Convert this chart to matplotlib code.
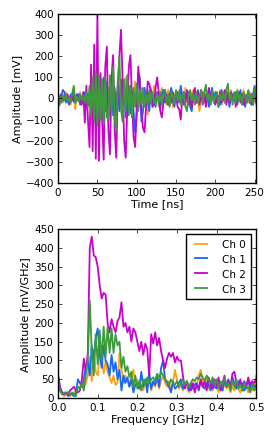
import numpy as np
import matplotlib
matplotlib.use("Agg")
import matplotlib.pyplot as plt

plt.style.use("classic")
plt.rcParams["font.family"] = "DejaVu Sans"

# Time traces, sampled every 2 ns [mV]
ch0_t = [30, -10, 20, -20, 10, 30, -20, 10, -30, 20, -10, -50, 20, -10, 30, -20,
         10, -30, 20, -10, 30, -40, 50, -30, 60, -50, 40, -70, 60, -40, 70, -60,
         50, -80, 40, 70, -60, 30, -50, 60, -40, 50, -30, 100, -20, 60, -50, 40,
         -30, 80, -60, 30, -40, 50, -20, 40, -30, -75, 20, 50, -10, 60, -20, 30,
         -40, 20, 50, -10, 30, -30, 40, -20, 20, -40, 10, 30, -20, 40, -10, 20,
         -30, 50, -20, 10, -30, 20, 40, -10, 30, -20, -60, 10, 30, -20, 20, -10,
         40, -30, 10, 20, -20, 30, -10, 40, -30, 20, -20, 30, 10, -30, 40, -10,
         20, -20, 30, -10, 20, -30, 40, -10, 20, -20, 30, -10, -30, 20, -30]
ch1_t = [20, -30, 10, 40, 30, -20, 10, -30, 20, -10, 30, -20, 10, 20, -30, 10,
         -20, 30, -40, 20, -30, 40, -60, 50, -80, 90, -100, 70, -90, 100, -60, 80,
         -110, 60, 90, -80, 50, -100, 70, -60, 90, -40, 80, -90, 40, 60, -70, 30,
         -60, -160, -80, 120, 100, -110, -60, 50, -40, 30, -60, 40, -20, 10, -40, 30,
         -10, -50, 20, 40, -20, 10, -30, 20, 50, -10, -40, 20, 30, -20, 60, 10,
         -30, 20, -10, 30, -40, -60, 10, 20, -20, 40, -10, 20, -30, 30, -20, 10,
         -40, 20, 50, -10, 30, -20, 10, -30, 40, -10, 20, -20, 30, -40, 10, 20,
         -10, 30, -30, 10, 40, -20, 20, -40, 10, 30, -20, -30, 20, 60, -20]
ch2_t = [10, -15, 20, -10, 15, -5, 20, -20, 10, 15, -15, 5, 20, -10, 15, -30,
         30, -115, 60, -100, -230, 160, -250, 255, -285, 400, -295, 120, -100, -290, 150, 245,
         -150, -265, 100, 205, -150, -280, 50, 200, 325, 100, -200, -280, -50, 150, 205, 0,
         -180, -230, -50, 150, 60, -60, -140, -160, -30, 80, 70, 30, -40, -30, 50, 100,
         30, -60, -90, -20, 40, 10, -30, 20, -20, 30, -10, 20, -40, -50, -100, 10,
         30, -20, 40, -30, 10, -40, 20, 50, -20, 30, -30, 40, -10, 20, -40, 10,
         50, -20, 30, -10, -30, 20, -40, 30, -20, 10, 40, -30, 20, -20, 30, -10,
         20, -40, 10, 30, -20, 20, -30, 10, -20, 30, -10, 20, -30, 40, -10]
ch3_t = [-50, 10, -20, 15, -10, 20, -15, 5, -20, 25, 60, -20, 10, -15, 20, -10,
         15, -20, 30, -40, 60, -80, 100, -110, 125, -130, 110, -100, 90, -120, 100, -90,
         -100, 110, -60, 150, -100, -150, 80, 195, -50, -110, 90, -60, 110, -80, 60, -90,
         50, -40, 70, -60, 40, -30, 50, -40, 20, -30, 40, -20, 30, -10, -30, 20,
         -20, 30, -30, 10, 40, -20, 20, -40, 30, 10, -20, 40, -10, 20, -30, 10,
         30, -40, -60, 20, 40, -10, 20, -30, 30, -20, 10, 40, -20, 30, 65, -10,
         20, -30, 40, -20, 10, 30, -40, 20, -10, 30, -20, 40, 70, -10, 20, -30,
         30, -20, 40, -10, 20, -30, 30, 10, -20, 40, -10, 20, -30, 50, 10]

# Amplitude spectra, every 0.005 GHz [mV/GHz]
ch0_f = [40, 20, 10, 5, 10, 15, 5, 10, 15, 20,
         30, 25, 45, 30, 40, 60, 110, 45, 130, 70,
         60, 120, 110, 65, 100, 70, 55, 40, 60, 35,
         40, 120, 80, 40, 60, 45, 30, 60, 75, 40,
         50, 25, 35, 20, 45, 30, 55, 20, 40, 30,
         50, 25, 45, 60, 40, 30, 45, 20, 40, 75,
         50, 25, 35, 20, 40, 30, 15, 35, 25, 40,
         30, 60, 75, 45, 30, 50, 25, 40, 20, 35,
         45, 15, 30, 20, 40, 25, 35, 15, 30, 20,
         40, 25, 15, 30, 20, 35, 15, 30, 20, 25,
         60]
ch1_f = [60, 30, 15, 10, 15, 5, 10, 10, 5, 15,
         50, 40, 30, 50, 85, 100, 60, 140, 100, 160,
         185, 120, 80, 140, 100, 90, 60, 115, 70, 95,
         50, 75, 20, 60, 40, 55, 30, 50, 15, 35,
         40, 25, 70, 30, 50, 15, 70, 25, 45, 35,
         60, 30, 80, 100, 50, 40, 30, 15, 45, 25,
         30, 40, 50, 25, 35, 45, 20, 40, 25, 35,
         40, 20, 45, 30, 25, 40, 35, 20, 45, 30,
         25, 40, 30, 20, 45, 35, 50, 30, 55, 40,
         25, 45, 30, 40, 20, 35, 45, 25, 40, 30,
         35]
ch2_f = [60, 25, 15, 10, 15, 10, 20, 25, 30, 20,
         15, 20, 50, 105, 70, 120, 400, 430, 380, 375,
         350, 300, 265, 280, 275, 200, 175, 210, 190, 175,
         205, 215, 255, 190, 200, 175, 190, 150, 185, 175,
         150, 125, 150, 115, 145, 130, 60, 170, 145, 175,
         140, 160, 125, 100, 80, 105, 120, 110, 120, 95,
         110, 100, 100, 60, 25, 45, 30, 20, 40, 15,
         35, 25, 50, 30, 45, 20, 55, 35, 25, 50,
         30, 55, 20, 40, 60, 30, 45, 25, 65, 70,
         40, 30, 50, 20, 45, 30, 55, 35, 45, 40,
         50]
ch3_f = [40, 20, 10, 15, 10, 15, 10, 15, 10, 5,
         30, 25, 40, 20, 60, 100, 260, 120, 60, 170,
         90, 180, 100, 190, 110, 190, 120, 185, 120, 170,
         140, 150, 80, 110, 70, 85, 55, 70, 30, 60,
         25, 45, 20, 50, 35, 55, 40, 50, 55, 45,
         65, 55, 70, 60, 50, 45, 35, 50, 40, 35,
         45, 30, 40, 50, 35, 45, 30, 40, 50, 45,
         55, 50, 65, 55, 45, 60, 50, 40, 55, 35,
         50, 25, 45, 35, 55, 30, 40, 20, 45, 30,
         50, 25, 35, 20, 40, 25, 30, 15, 35, 20,
         30]

labels = ["Ch 0", "Ch 1", "Ch 2", "Ch 3"]
colors = ["#ffa010", "#1466ff", "#cc00cc", "#3c9c3c"]
traces = [ch0_t, ch1_t, ch2_t, ch3_t]
spectra = [ch0_f, ch1_f, ch2_f, ch3_f]

fig = plt.figure(figsize=(2.74, 4.39), dpi=100, facecolor="white")
ax1 = fig.add_axes([0.212, 0.581, 0.723, 0.385])
ax2 = fig.add_axes([0.212, 0.091, 0.723, 0.385])

for y, c, lab in zip(traces, colors, labels):
    t = np.arange(len(y)) * 2.0
    ax1.plot(t, y, color=c, lw=1.3, label=lab)
ax1.set_xlim(0, 252)
ax1.set_ylim(-400, 400)
ax1.set_xticks([0, 50, 100, 150, 200, 250])
ax1.set_yticks(np.arange(-400, 401, 100))
ax1.set_xlabel("Time [ns]", fontsize=8, labelpad=1)
ax1.set_ylabel("Amplitude [mV]", fontsize=8, labelpad=2)

for y, c, lab in zip(spectra, colors, labels):
    f = np.arange(len(y)) * 0.005
    ax2.plot(f, y, color=c, lw=1.3, label=lab)
ax2.set_xlim(0, 0.5)
ax2.set_ylim(0, 450)
ax2.set_xticks(np.arange(0, 0.51, 0.1))
ax2.set_yticks(np.arange(0, 451, 50))
ax2.set_xlabel("Frequency [GHz]", fontsize=8, labelpad=1)
ax2.set_ylabel("Amplitude [mV/GHz]", fontsize=8, labelpad=2)
ax2.legend(loc="upper right", fontsize=7.5, handlelength=1.8, handletextpad=1.1,
           borderpad=0.5, labelspacing=0.45, frameon=True, fancybox=False)

for ax in (ax1, ax2):
    ax.tick_params(labelsize=7.5, length=3)
    ax.tick_params(axis="x", pad=3)
    ax.tick_params(axis="y", pad=3)

fig.savefig("out.png", dpi=100, facecolor="white")
